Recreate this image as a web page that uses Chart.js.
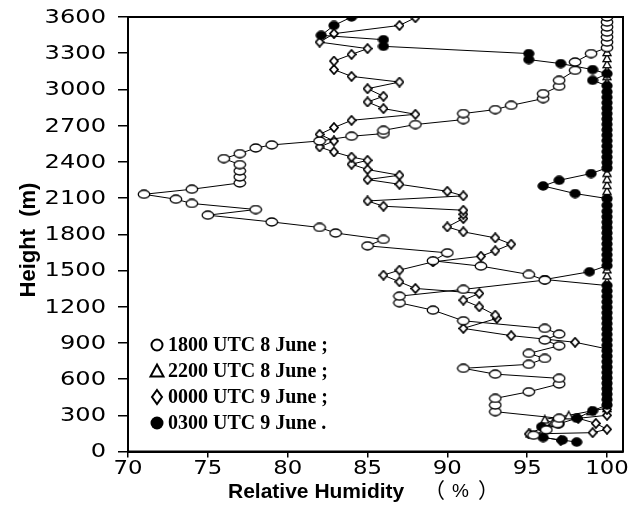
<!DOCTYPE html>
<html>
<head>
<meta charset="utf-8">
<script src="https://cdn.jsdelivr.net/npm/chart.js@4.4.1/dist/chart.umd.min.js"></script>
<style>
  body { margin: 0; background: #fff; }
</style>
</head>
<body>
<canvas id="rhChart" width="634" height="514"></canvas>
<script>
// sounding profiles: height (m) and relative humidity (%)
const z1800 = [135, 180, 230, 275, 330, 385, 440, 495, 559, 606, 641, 689, 722, 771, 813, 876, 923, 973, 1020, 1083,
  1171, 1232, 1287, 1343, 1420, 1467, 1536, 1580, 1646, 1704, 1757, 1810, 1856, 1902, 1958, 2005, 2055, 2090, 2131, 2173,
  2225, 2275, 2325, 2377, 2427, 2468, 2515, 2540, 2573, 2612, 2634, 2661, 2709, 2750, 2800, 2833, 2868, 2924, 2965, 3026,
  3075, 3158, 3227, 3297, 3346, 3392, 3434, 3475, 3517, 3558, 3600];
const rh1800 = [95.4, 96.2, 96.9, 97.0, 93.0, 93.0, 93.0, 95.1, 97.0, 97.0, 93.0, 91.0, 95.1, 96.1, 95.1, 97.0, 96.1, 97.0, 96.1, 91.0,
  89.1, 87.0, 87.0, 91.0, 96.1, 95.1, 92.1, 89.1, 90.0, 85.0, 86.0, 83.0, 82.0, 79.0, 75.0, 78.0, 74.0, 73.0, 71.0, 74.0,
  77.0, 77.0, 77.0, 77.0, 76.0, 77.0, 78.0, 79.0, 82.0, 84.0, 86.0, 86.0, 88.0, 91.0, 91.0, 93.0, 94.0, 96.0, 96.0, 97.0,
  97.0, 98.0, 98.0, 99.0, 100, 100, 100, 100, 100, 100, 100];

const z2200 = [150, 238, 266, 300, 335, 360, 410, 460, 510, 560, 610, 660, 710, 760, 810, 860, 910, 960, 1010, 1060,
  1110, 1160, 1210, 1260, 1310, 1360, 1410, 1460, 1510, 1560, 1610, 1660, 1710, 1760, 1810, 1860, 1910, 1960, 2010, 2060,
  2110, 2160, 2210, 2260, 2310, 2360, 2410, 2460, 2510, 2560, 2610, 2660, 2710, 2760, 2810, 2860, 2910, 2960, 3010, 3060,
  3110, 3160, 3210, 3260, 3310, 3360, 3410, 3460, 3510, 3560, 3600];
const rh2200 = [95.2, 96.6, 96.1, 97.6, 99.0, 100, 100, 100, 100, 100, 100, 100, 100, 100, 100, 100, 100, 100, 100, 100,
  100, 100, 100, 100, 100, 100, 100, 100, 100, 100, 100, 100, 100, 100, 100, 100, 100, 100, 100, 100,
  100, 100, 100, 100, 100, 100, 100, 100, 100, 100, 100, 100, 100, 100, 100, 100, 100, 100, 100, 100,
  100, 100, 100, 100, 100, 100, 100, 100, 100, 100, 100];

const z0000 = [90, 145, 156, 184, 233, 275, 300, 350, 400, 450, 500, 550, 600, 650, 700, 750, 800, 850,
  905, 960, 1020, 1103, 1130, 1199, 1254, 1310, 1351, 1406, 1461, 1503, 1571, 1618, 1663, 1718, 1770, 1820, 1861, 1930,
  1966, 1999, 2032, 2076, 2118, 2156, 2214, 2253, 2289, 2336, 2380, 2413, 2440, 2482, 2523, 2573, 2628, 2684, 2744, 2794,
  2841, 2896, 2943, 3006, 3061, 3108, 3164, 3235, 3290, 3338, 3392, 3462, 3530, 3594];
const rh0000 = [97.1, 95.1, 99.1, 100, 99.3, 98.2, 100, 100, 100, 100, 100, 100, 100, 100, 100, 100, 100, 100,
  98.0, 94.0, 91.0, 93.1, 93.0, 92.0, 91.0, 92.0, 88.0, 87.0, 86.0, 87.0, 89.1, 92.1, 93.0, 94.0, 93.0, 91.0, 90.0, 91.0,
  91.0, 91.0, 86.0, 85.0, 91.0, 90.0, 87.0, 85.0, 87.0, 85.0, 84.0, 85.0, 84.0, 82.9, 82.0, 82.9, 82.0, 82.9, 84.0, 88.0,
  86.0, 85.0, 86.0, 85.0, 87.0, 84.0, 82.9, 82.9, 84.0, 85.0, 82.0, 82.9, 87.0, 88.0];

const z0300 = [78, 95, 115, 205, 230, 275, 338, 385, 430, 475, 520, 565, 610, 655, 700, 745, 790, 835, 880, 925,
  970, 1015, 1060, 1105, 1150, 1195, 1240, 1285, 1330, 1375, 1425, 1489, 1540, 1585, 1630, 1675, 1720, 1765, 1810, 1855,
  1900, 1945, 1990, 2040, 2096, 2137, 2200, 2247, 2303, 2350, 2395, 2440, 2485, 2530, 2575, 2620, 2665, 2710, 2755, 2800,
  2845, 2890, 2935, 2980, 3030, 3075, 3130, 3164, 3214, 3247, 3297, 3357, 3412, 3448, 3530, 3600];
const rh0300 = [98.1, 97.2, 96.0, 95.9, 97.0, 98.1, 99.1, 100, 100, 100, 100, 100, 100, 100, 100, 100, 100, 100, 100, 100,
  100, 100, 100, 100, 100, 100, 100, 100, 100, 100, 96.1, 98.9, 100, 100, 100, 100, 100, 100, 100, 100,
  100, 100, 100, 100, 100, 98.0, 96.0, 97.0, 99.0, 100, 100, 100, 100, 100, 100, 100, 100, 100, 100, 100,
  100, 100, 100, 100, 100, 99.1, 100, 99.1, 97.1, 95.1, 95.1, 86.0, 86.0, 82.1, 82.9, 84.0];

const seriesNames = ['1800 UTC 8 June ;', '2200 UTC 8 June ;', '0000 UTC 9 June ;', '0300 UTC 9 June .'];
const heightTicks = { min: 0, max: 3600, step: 300 };
const rhTicks = { min: 70, max: 101, step: 5 };

const toPoints = (z, rh) => z.map((h, i) => ({ x: rh[i], y: h }));

// small marker images
function ellipseMark(w, h, fill) {
  const c = document.createElement('canvas');
  c.width = Math.ceil(w) + 2; c.height = Math.ceil(h) + 2;
  const g = c.getContext('2d');
  g.beginPath();
  g.ellipse(c.width / 2, c.height / 2, w / 2, h / 2, 0, 0, Math.PI * 2);
  g.fillStyle = fill; g.fill();
  g.lineWidth = 1.3; g.strokeStyle = '#000'; g.stroke();
  return c;
}
function diamondMark() {
  const c = document.createElement('canvas');
  c.width = 10; c.height = 11;
  const g = c.getContext('2d');
  g.beginPath();
  g.moveTo(5, 1); g.lineTo(9, 5.5); g.lineTo(5, 10); g.lineTo(1, 5.5); g.closePath();
  g.fillStyle = '#fff'; g.fill();
  g.lineWidth = 1.7; g.strokeStyle = '#000'; g.stroke();
  return c;
}
function triangleMark() {
  const c = document.createElement('canvas');
  c.width = 10; c.height = 10;
  const g = c.getContext('2d');
  g.beginPath();
  g.moveTo(5, 1.2); g.lineTo(9, 8.6); g.lineTo(1, 8.6); g.closePath();
  g.fillStyle = '#fff'; g.fill();
  g.lineWidth = 1.3; g.strokeStyle = '#000'; g.stroke();
  return c;
}

const openMark = ellipseMark(11.5, 8, '#fff');
const solidMark = ellipseMark(10, 8, '#000');
const diaMark = diamondMark();
const triMark = triangleMark();

function lineSet(label, pts, mark) {
  return {
    label: label,
    data: pts,
    showLine: true,
    borderColor: '#000',
    borderWidth: 1,
    pointStyle: mark,
    pointRadius: 5,
    tension: 0
  };
}

// wide tick numerals, placed from the chart's own scales
function drawTickLabels(c, chart) {
  const xs = chart.scales.x, ys = chart.scales.y;
  c.save();
  c.fillStyle = '#000';
  c.font = '19px "DejaVu Sans", sans-serif';
  c.textBaseline = 'middle';
  c.textAlign = 'right';
  ys.ticks.forEach(t => {
    c.save();
    c.translate(106, ys.getPixelForValue(t.value));
    c.scale(1.27, 1);
    c.fillText(String(t.value), 0, 1);
    c.restore();
  });
  c.textAlign = 'center';
  xs.ticks.forEach(t => {
    c.save();
    c.translate(xs.getPixelForValue(t.value), 469);
    c.scale(1.2, 1);
    c.fillText(String(t.value), 0, 0);
    c.restore();
  });
  c.restore();
}

// background, frame, legend, axis text
const decor = {
  id: 'decor',
  beforeDraw(chart) {
    const c = chart.ctx;
    c.save();
    c.fillStyle = '#fff';
    c.fillRect(0, 0, chart.width, chart.height);
    c.restore();
  },
  afterDraw(chart) {
    const c = chart.ctx;
    const a = chart.chartArea;
    c.save();
    c.strokeStyle = '#000';
    c.lineWidth = 2;
    c.strokeRect(a.left, a.top, a.right - a.left, a.bottom - a.top);

    drawTickLabels(c, chart);

    // legend
    const rows = [345, 371, 397, 423];
    const mx = 157;
    c.lineWidth = 2;
    c.beginPath(); c.arc(mx, rows[0], 5.5, 0, Math.PI * 2);
    c.fillStyle = '#fff'; c.fill(); c.stroke();
    c.beginPath(); c.moveTo(mx, rows[1] - 6.5); c.lineTo(mx + 6.5, rows[1] + 5.5); c.lineTo(mx - 6.5, rows[1] + 5.5); c.closePath();
    c.fill(); c.stroke();
    c.beginPath(); c.moveTo(mx, rows[2] - 7); c.lineTo(mx + 5, rows[2]); c.lineTo(mx, rows[2] + 7); c.lineTo(mx - 5, rows[2]); c.closePath();
    c.fill(); c.stroke();
    c.beginPath(); c.arc(mx, rows[3], 6.5, 0, Math.PI * 2);
    c.fillStyle = '#000'; c.fill();

    c.fillStyle = '#000';
    c.font = 'bold 20px "Liberation Serif", serif';
    c.textBaseline = 'middle';
    c.textAlign = 'left';
    seriesNames.forEach((t, i) => c.fillText(t, 168, rows[i] + 1));

    // x axis title, unit in full-width brackets
    c.textBaseline = 'alphabetic';
    c.font = 'bold 21px "Liberation Sans", Arial, sans-serif';
    c.fillText('Relative Humidity', 228, 498);
    c.font = '21px "Noto Sans CJK SC", sans-serif';
    c.fillText('（', 424, 498);
    c.fillText('）', 478, 498);
    c.font = '19px "Liberation Sans", Arial, sans-serif';
    c.fillText('%', 452, 497);

    // y axis title
    c.translate(29, 240);
    c.rotate(-Math.PI / 2);
    c.textAlign = 'center';
    c.textBaseline = 'middle';
    c.font = 'bold 22px "Liberation Sans", Arial, sans-serif';
    c.fillText('Height  (m)', 0, 0);
    c.restore();
  }
};

const ctx = document.getElementById('rhChart').getContext('2d');
const rhChart = new Chart(ctx, {
  type: 'scatter',
  data: {
    datasets: [
      lineSet(seriesNames[0], toPoints(z1800, rh1800), openMark),
      lineSet(seriesNames[3], toPoints(z0300, rh0300), solidMark),
      lineSet(seriesNames[2], toPoints(z0000, rh0000), diaMark),
      lineSet(seriesNames[1], toPoints(z2200, rh2200), triMark)
    ]
  },
  options: {
    responsive: false,
    animation: false,
    devicePixelRatio: 1,
    layout: { padding: { top: 17, right: 11, left: 0, bottom: 0 } },
    plugins: { legend: { display: false }, tooltip: { enabled: false } },
    scales: {
      x: {
        type: 'linear',
        min: rhTicks.min,
        max: rhTicks.max,
        ticks: { stepSize: rhTicks.step, includeBounds: false, display: false },
        grid: { drawOnChartArea: false, tickLength: 6, color: '#000', lineWidth: 1.5 },
        border: { color: '#000', width: 2 },
        afterFit(s) { s.height = 62.5; }
      },
      y: {
        min: heightTicks.min,
        max: heightTicks.max,
        ticks: { stepSize: heightTicks.step, display: false },
        grid: { drawOnChartArea: false, tickLength: 10, color: '#000', lineWidth: 1.5 },
        border: { color: '#000', width: 2 },
        afterFit(s) { s.width = 128; }
      }
    }
  },
  plugins: [decor]
});
</script>
</body>
</html>
